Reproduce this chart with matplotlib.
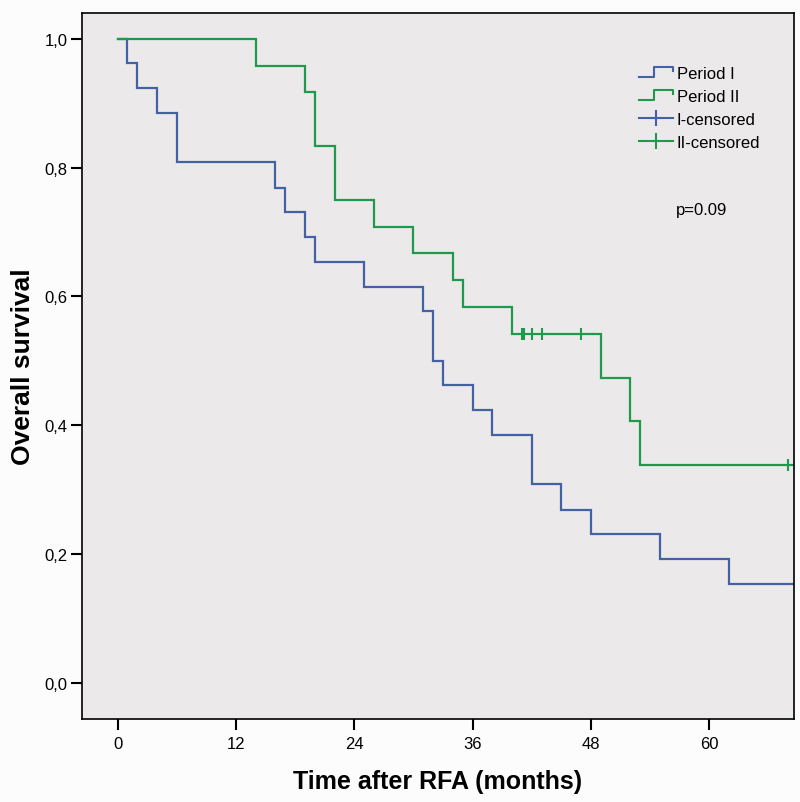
import matplotlib
matplotlib.use("Agg")
import matplotlib.pyplot as plt
from matplotlib.lines import Line2D
from matplotlib.legend_handler import HandlerBase
from matplotlib.ticker import FuncFormatter

# ---- data ----
period1_times = [0, 1, 2, 4, 6, 16, 17, 19, 20, 25, 31, 32, 33, 36, 38, 42, 45, 48, 55, 62]
period1_surv = [1.0, 0.962, 0.923, 0.885, 0.808, 0.769, 0.731, 0.692, 0.654, 0.615,
                0.577, 0.500, 0.462, 0.423, 0.385, 0.308, 0.269, 0.231, 0.192, 0.154]
period2_times = [0, 14, 19, 20, 22, 26, 30, 34, 35, 40, 49, 52, 53]
period2_surv = [1.0, 0.958, 0.917, 0.833, 0.750, 0.708, 0.667, 0.625, 0.583, 0.542,
                0.474, 0.406, 0.338]
period2_censor_t = [41.0, 41.2, 42.0, 43.0, 47.0, 68.0]
period2_censor_s = [0.542, 0.542, 0.542, 0.542, 0.542, 0.338]
x_end = 68.6
xticks = [0, 12, 24, 36, 48, 60]
yticks = [0.0, 0.2, 0.4, 0.6, 0.8, 1.0]
legend_labels = ["Period I", "Period II", "I-censored", "II-censored"]
p_text = "p=0.09"

blue = "#4461a6"
green = "#1f9a4c"
fam = ["Liberation Sans", "DejaVu Sans"]

fig = plt.figure(figsize=(8.0, 8.03), dpi=100, facecolor="#fcfcfc")
ax = fig.add_axes([0.102, 0.1034, 0.8905, 0.8792])
ax.set_facecolor("#ebe9ea")

ax.step(period1_times + [x_end], period1_surv + [period1_surv[-1]], where="post",
        color=blue, lw=1.6, solid_joinstyle="miter")
ax.step(period2_times + [x_end], period2_surv + [period2_surv[-1]], where="post",
        color=green, lw=1.6, solid_joinstyle="miter")
ax.plot(period2_censor_t, period2_censor_s, ls="none", marker="|", ms=8, mew=1.5, color=green)

ax.set_xlim(-3.65, 68.6)
ax.set_ylim(-0.056, 1.040)
ax.set_xticks(xticks)
ax.set_yticks(yticks)
ax.yaxis.set_major_formatter(FuncFormatter(lambda v, p: f"{v:.1f}".replace(".", ",")))

for lab in ax.get_xticklabels() + ax.get_yticklabels():
    lab.set_family(fam)
    lab.set_fontsize(12)
ax.tick_params(axis="both", direction="out", length=8, width=1.5, colors="black", pad=2)
ax.tick_params(axis="x", pad=4)
for s in ax.spines.values():
    s.set_linewidth(1.2)
    s.set_color("black")

ax.set_xlabel("Time after RFA (months)", fontsize=18, fontweight="bold",
              family=fam, labelpad=13)
ax.set_ylabel("Overall survival", fontsize=19, fontweight="bold",
              family=fam, labelpad=7)


class StepHandler(HandlerBase):
    def create_artists(self, legend, orig_handle, xdescent, ydescent, width, height,
                       fontsize, trans):
        c = orig_handle.get_color()
        xs = [0, width * 0.45, width * 0.45, width, width]
        ys = [0.1 * height, 0.1 * height, 0.9 * height, 0.9 * height, 0.55 * height]
        ln = Line2D([x - xdescent for x in xs], [y - ydescent for y in ys],
                    color=c, lw=1.5, transform=trans)
        return [ln]


class CrossHandler(HandlerBase):
    def create_artists(self, legend, orig_handle, xdescent, ydescent, width, height,
                       fontsize, trans):
        c = orig_handle.get_color()
        h = Line2D([-xdescent, width - xdescent], [height / 2 - ydescent] * 2,
                   color=c, lw=1.5, transform=trans)
        v = Line2D([width / 2 - xdescent] * 2, [-0.1 * height - ydescent, 1.1 * height - ydescent],
                   color=c, lw=1.5, transform=trans)
        return [h, v]


h1 = Line2D([], [], color=blue)
h2 = Line2D([], [], color=green)
h3 = Line2D([], [], color=blue)
h4 = Line2D([], [], color=green)
leg = ax.legend([h1, h2, h3, h4], legend_labels,
                handler_map={h1: StepHandler(), h2: StepHandler(),
                             h3: CrossHandler(), h4: CrossHandler()},
                loc="upper left", bbox_to_anchor=(0.771, 0.937), frameon=False,
                prop={"family": fam, "size": 12},
                handlelength=2.0, handletextpad=0.25, labelspacing=0.48, borderpad=0)

ax.text(0.834, 0.722, p_text, transform=ax.transAxes, fontsize=12,
        family=fam, ha="left", va="center")

fig.savefig("out.png", dpi=100, facecolor=fig.get_facecolor())
